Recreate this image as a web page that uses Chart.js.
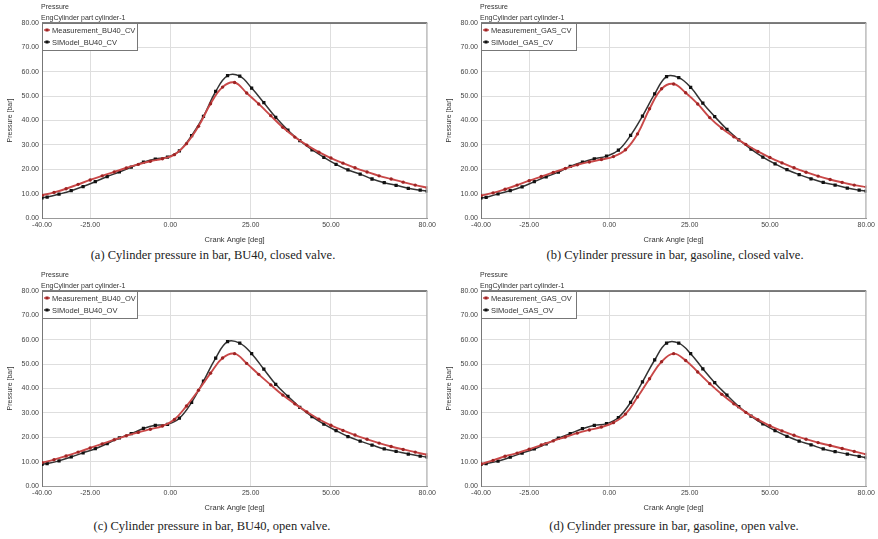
<!DOCTYPE html>
<html>
<head>
<meta charset="utf-8">
<script src="https://cdn.jsdelivr.net/npm/chart.js@4.4.1/dist/chart.umd.min.js"></script>
<style>
    body { margin: 0; background: #fff; }
    #page { position: relative; width: 878px; height: 539px; overflow: hidden; background: #fff; }
    canvas { position: absolute; }
    .caption {
        position: absolute;
        width: 400px;
        text-align: center;
        font-family: "Liberation Serif", "Times New Roman", serif;
        font-size: 12.5px;
        line-height: 14px;
        color: #222;
        white-space: nowrap;
    }
</style>
</head>
<body>
<div id="page">
    <canvas id="chartA" width="439" height="246" style="left:0;top:0"></canvas>
    <canvas id="chartB" width="439" height="246" style="left:439px;top:0"></canvas>
    <canvas id="chartC" width="439" height="246" style="left:0;top:268px"></canvas>
    <canvas id="chartD" width="439" height="246" style="left:439px;top:268px"></canvas>
    <div class="caption" style="left:13px;top:248px">(a) Cylinder pressure in bar, BU40, closed valve.</div>
    <div class="caption" style="left:475px;top:248px">(b) Cylinder pressure in bar, gasoline, closed valve.</div>
    <div class="caption" style="left:12px;top:519px">(c) Cylinder pressure in bar, BU40, open valve.</div>
    <div class="caption" style="left:474px;top:519px">(d) Cylinder pressure in bar, gasoline, open valve.</div>
</div>
<script>
// x axis ticks (crank angle, deg)
const tickAngles = [-40, -25, 0, 25, 50, 80]

// crank angles where the markers sit
const redAngles = [-40, -36.25, -32.5, -28.75, -25, -21.25, -17.5, -13.75, -10, -6.25, -2.5, 1.25, 5, 8.75, 12.5, 16.25, 20, 23.75, 27.5, 31.25, 35, 38.75, 42.5, 46.25, 50, 53.75, 57.5, 61.25, 65, 68.75, 72.5, 76.25, 80]
const blackAngles = [-40, -38.4, -34.7, -30.9, -27.2, -23.4, -19.7, -15.9, -12.2, -8.4, -4.7, -0.9, 2.8, 6.6, 10.3, 14.1, 17.8, 21.6, 25.3, 29.1, 32.8, 36.6, 40.3, 44.1, 47.8, 51.6, 55.3, 59.1, 62.8, 66.6, 70.3, 74.1, 77.8, 80]

// pressure [bar]
const measBU40CV = [9.3, 10.5, 12.0, 13.8, 15.6, 17.3, 18.9, 20.5, 22.0, 23.3, 24.3, 26.0, 30.5, 37.6, 46.9, 53.7, 55.6, 51.3, 46.8, 42.0, 37.2, 33.2, 29.9, 27.0, 24.6, 22.5, 20.6, 18.9, 17.3, 16.0, 14.7, 13.5, 12.4]
const modelBU40CV = [8.3, 8.6, 9.8, 11.2, 12.9, 14.9, 17.0, 18.9, 20.9, 22.9, 24.2, 25.0, 27.5, 33.8, 41.7, 51.9, 58.4, 58.2, 53.3, 47.3, 41.3, 36.0, 31.7, 28.0, 24.9, 22.0, 19.7, 18.0, 16.0, 14.5, 13.4, 12.2, 11.4, 11.0]

const measGASCV = [9.2, 10.3, 11.8, 13.5, 15.3, 17.0, 18.7, 20.3, 21.8, 23.0, 24.0, 25.2, 28.0, 34.5, 44.8, 53.0, 55.0, 51.4, 46.8, 41.2, 36.8, 33.3, 30.2, 27.3, 24.8, 22.6, 20.6, 18.8, 17.2, 15.8, 14.6, 13.5, 12.7]
const modelGASCV = [8.3, 8.5, 9.9, 11.2, 12.8, 14.9, 16.9, 18.8, 21.2, 22.9, 24.3, 25.4, 27.8, 33.9, 41.8, 50.9, 58.0, 57.6, 53.6, 47.1, 41.6, 36.4, 32.1, 28.3, 25.0, 22.2, 19.8, 17.8, 16.1, 14.6, 13.5, 12.3, 11.4, 11.0]

const measBU40OV = [9.6, 10.8, 12.3, 13.9, 15.6, 17.3, 19.0, 20.6, 22.0, 23.3, 24.6, 27.3, 32.8, 39.3, 46.3, 52.5, 54.3, 50.3, 45.8, 41.5, 37.3, 33.7, 30.4, 27.4, 24.9, 22.8, 20.9, 19.2, 17.6, 16.2, 15.0, 13.9, 12.8]
const modelBU40OV = [8.9, 9.2, 10.3, 11.9, 13.6, 15.3, 17.4, 19.7, 21.5, 23.6, 24.9, 25.3, 27.8, 34.3, 43.0, 52.5, 59.2, 58.6, 54.3, 47.9, 41.7, 36.8, 32.3, 28.5, 25.4, 22.7, 20.3, 18.4, 16.8, 15.2, 14.2, 13.1, 12.3, 11.8]

const measGASOV = [9.0, 10.5, 12.2, 13.5, 15.1, 16.8, 18.5, 20.1, 21.7, 23.0, 24.2, 26.0, 29.5, 36.5, 44.0, 51.0, 54.3, 51.5, 46.8, 42.0, 37.6, 33.7, 30.2, 27.2, 24.7, 22.6, 20.8, 19.2, 17.8, 16.6, 15.4, 14.2, 13.0]
const modelGASOV = [8.9, 9.2, 10.2, 11.8, 13.5, 15.2, 17.3, 19.6, 21.5, 23.5, 24.9, 25.6, 28.1, 34.3, 42.7, 51.7, 58.6, 58.6, 54.3, 48.1, 42.4, 37.3, 32.6, 28.7, 25.5, 22.7, 20.4, 18.4, 16.9, 15.2, 14.1, 13.1, 12.2, 11.6]

const panels = [
    { id: 'chartA', meas: measBU40CV, model: modelBU40CV, measLabel: 'Measurement_BU40_CV', modelLabel: 'SIModel_BU40_CV' },
    { id: 'chartB', meas: measGASCV, model: modelGASCV, measLabel: 'Measurement_GAS_CV', modelLabel: 'SIModel_GAS_CV' },
    { id: 'chartC', meas: measBU40OV, model: modelBU40OV, measLabel: 'Measurement_BU40_OV', modelLabel: 'SIModel_BU40_OV' },
    { id: 'chartD', meas: measGASOV, model: modelGASOV, measLabel: 'Measurement_GAS_OV', modelLabel: 'SIModel_GAS_OV' }
]

const sans = '"Liberation Sans", Arial, sans-serif'

function toPoints(angles, values) {
    return angles.map(function (a, i) { return { x: a, y: values[i] } })
}

// header text, plot frame and the little legend box inside the plot
const panelDecor = {
    id: 'panelDecor',
    afterDraw(chart) {
        const ctx = chart.ctx
        const a = chart.chartArea
        ctx.save()

        ctx.fillStyle = '#333'
        ctx.font = '7px ' + sans
        ctx.textAlign = 'left'
        ctx.textBaseline = 'middle'
        ctx.fillText('Pressure', a.left - 1, a.top - 16)
        ctx.fillText('EngCylinder part cylinder-1', a.left - 1, a.top - 5)

        // frame
        ctx.strokeStyle = '#555'
        ctx.lineWidth = 1.5
        ctx.beginPath()
        ctx.moveTo(a.left, a.top)
        ctx.lineTo(a.right, a.top)
        ctx.stroke()
        ctx.strokeStyle = '#b4b4b4'
        ctx.lineWidth = 1
        ctx.beginPath()
        ctx.moveTo(a.right - 0.5, a.top)
        ctx.lineTo(a.right - 0.5, a.bottom)
        ctx.stroke()

        // legend
        const w = 95, h = 27
        ctx.fillStyle = '#fff'
        ctx.fillRect(a.left, a.top, w, h)
        ctx.strokeStyle = '#777'
        ctx.lineWidth = 1
        ctx.strokeRect(a.left + 0.5, a.top + 0.5, w, h)

        chart.data.datasets.forEach(function (ds, i) {
            const y = a.top + 7 + i * 12
            ctx.strokeStyle = ds.borderColor
            ctx.lineWidth = 1.5
            ctx.beginPath()
            ctx.moveTo(a.left + 2, y)
            ctx.lineTo(a.left + 8, y)
            ctx.stroke()
            ctx.fillStyle = ds.pointBackgroundColor
            ctx.fillRect(a.left + 3.5, y - 1.5, 3, 3)
            ctx.fillStyle = '#333'
            ctx.font = '7.5px ' + sans
            ctx.fillText(ds.label, a.left + 10, y + 0.5)
        })

        ctx.restore()
    }
}

panels.forEach(function (p) {
    new Chart(document.getElementById(p.id), {
        type: 'line',
        data: {
            datasets: [
                {
                    label: p.measLabel,
                    data: toPoints(redAngles, p.meas),
                    borderColor: '#c94848',
                    borderWidth: 1.9,
                    pointStyle: 'circle',
                    pointRadius: 1.7,
                    pointBackgroundColor: '#9e2424',
                    pointBorderWidth: 0,
                    tension: 0.4
                },
                {
                    label: p.modelLabel,
                    data: toPoints(blackAngles, p.model),
                    borderColor: '#333',
                    borderWidth: 1.5,
                    pointStyle: 'rect',
                    pointRadius: 2.3,
                    pointBackgroundColor: '#111',
                    pointBorderWidth: 0,
                    tension: 0.4
                }
            ]
        },
        options: {
            responsive: false,
            animation: false,
            devicePixelRatio: 1,
            layout: { padding: { top: 23, right: 11, left: 0, bottom: 0 } },
            plugins: {
                legend: { display: false },
                tooltip: { enabled: false }
            },
            scales: {
                x: {
                    type: 'linear',
                    min: -40,
                    max: 80,
                    afterBuildTicks: function (scale) {
                        scale.ticks = tickAngles.map(function (v) { return { value: v } })
                    },
                    afterFit: function (scale) { scale.height = 28 },
                    ticks: {
                        autoSkip: false,
                        maxRotation: 0,
                        padding: 3,
                        color: '#444',
                        font: { family: sans, size: 7 },
                        callback: function (v) { return Number(v).toFixed(2) }
                    },
                    grid: { color: '#dedede', lineWidth: 1, drawTicks: false },
                    border: { color: '#999', width: 1 },
                    title: {
                        display: true,
                        text: 'Crank Angle [deg]',
                        color: '#333',
                        font: { family: sans, size: 7.5 },
                        padding: { top: 0, bottom: 1.5 }
                    }
                },
                y: {
                    min: 0,
                    max: 80,
                    afterFit: function (scale) { scale.width = 42 },
                    ticks: {
                        stepSize: 10,
                        padding: 3,
                        color: '#444',
                        font: { family: sans, size: 7 },
                        callback: function (v) { return Number(v).toFixed(2) }
                    },
                    grid: { color: '#dedede', lineWidth: 1, drawTicks: false },
                    border: { color: '#777', width: 1 },
                    title: {
                        display: true,
                        text: 'Pressure [bar]',
                        color: '#333',
                        font: { family: sans, size: 7 },
                        padding: { top: 6, bottom: 0 }
                    }
                }
            }
        },
        plugins: [panelDecor]
    })
})
</script>
</body>
</html>
